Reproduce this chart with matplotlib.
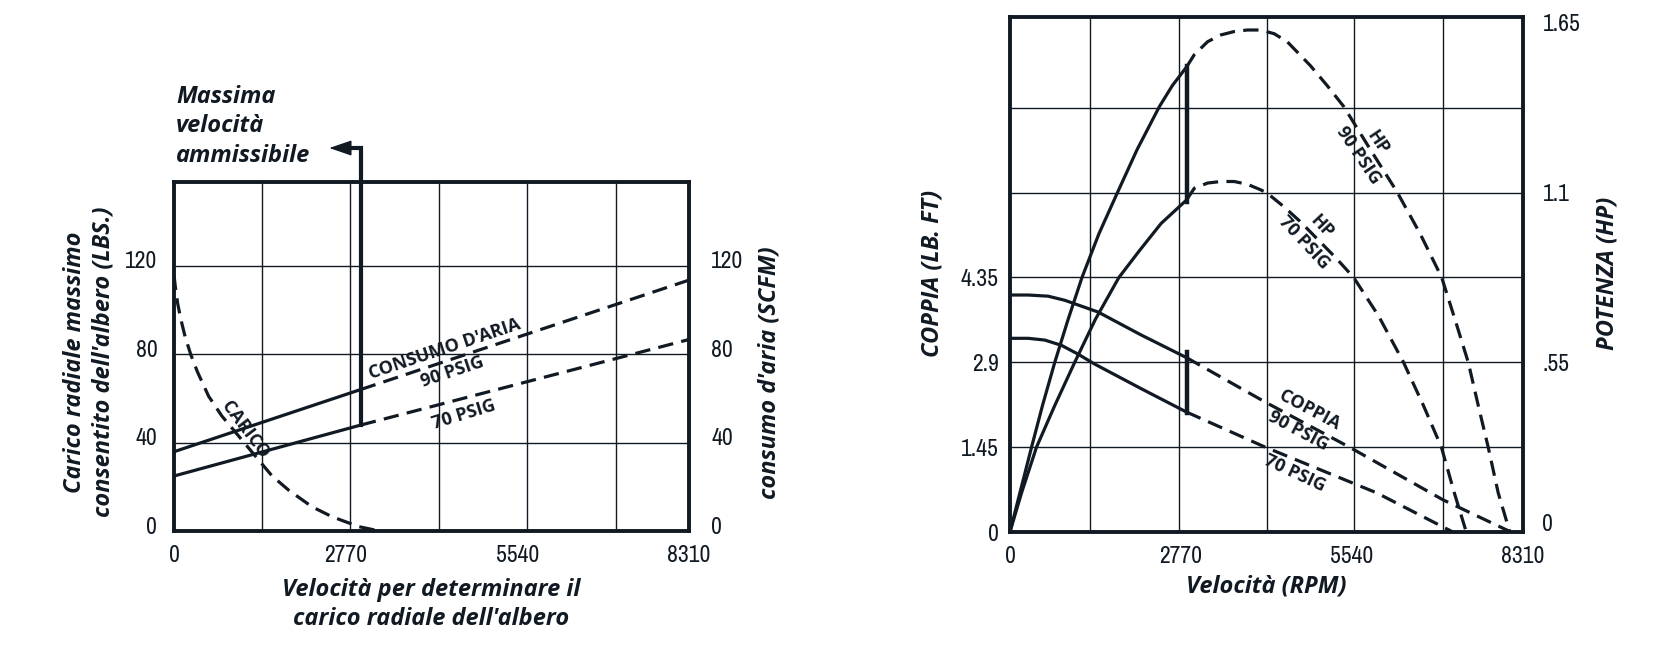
import matplotlib
matplotlib.use("Agg")
from matplotlib import pyplot as plt
from matplotlib import font_manager
from matplotlib.transforms import ScaledTranslation

# ---- left chart: shaft radial load / air consumption vs speed
load_rpm = [0, 25, 60, 110, 180, 270, 380, 560, 775, 1044, 1312, 1581, 1851, 2227, 2549, 2980, 3320]
load_lbs = [116, 110, 103, 96, 88, 80, 72, 61, 52, 43, 34, 25, 18.5, 11, 6.5, 2, 0]

air_rpm = [0, 3017, 8310]
air_90 = [35.9, 64.1, 113.6]
air_70 = [24.9, 48.0, 86.7]
max_speed_left = 3017
arrow_rpm = 2506
arrow_level = 173.4

left_xticks = [0, 2770, 5540, 8310]
left_yticks = [0, 40, 80, 120]
left_grid_x = [1428, 2843, 4270, 5704, 7132]
left_grid_y = [40, 80, 120]

# ---- right chart: torque (lb.ft) and power (hp) vs speed
hp90_rpm_s = [0, 161, 350, 527, 726, 942, 1167, 1442, 1748, 2061, 2421, 2631, 2860]
hp90_s = [0, 0.127, 0.275, 0.410, 0.55, 0.689, 0.825, 0.967, 1.103, 1.240, 1.379, 1.447, 1.507]
hp90_rpm_d = [2860, 2986, 3201, 3416, 3632, 3847, 4062, 4280, 4492, 4869, 5138, 5407,
              5837, 6268, 6644, 6994, 7209, 7424, 7586, 7747, 7909, 8097]
hp90_d = [1.507, 1.547, 1.589, 1.611, 1.622, 1.627, 1.627, 1.615, 1.589, 1.511, 1.447, 1.379,
          1.240, 1.103, 0.967, 0.825, 0.689, 0.55, 0.41, 0.275, 0.127, 0]

hp70_rpm_s = [0, 188, 430, 726, 1049, 1383, 1765, 2098, 2448, 2860]
hp70_s = [0, 0.127, 0.275, 0.410, 0.55, 0.689, 0.825, 0.912, 1.0, 1.076]
hp70_rpm_d = [2860, 2986, 3201, 3416, 3632, 3847, 4062, 4170, 4439, 4708, 4977, 5272,
              5568, 5972, 6375, 6698, 6989, 7198, 7392]
hp70_d = [1.076, 1.114, 1.131, 1.136, 1.136, 1.127, 1.109, 1.098, 1.054, 1.005, 0.950, 0.890,
          0.825, 0.700, 0.55, 0.410, 0.275, 0.127, 0]

tq90_rpm_s = [0, 296, 619, 888, 1157, 1426, 2120, 2860]
tq90_s = [4.05, 4.05, 4.03, 3.96, 3.86, 3.76, 3.37, 2.98]
tq90_rpm_d = [2860, 4136, 5500, 7015, 8116]
tq90_d = [2.98, 2.22, 1.45, 0.55, 0]

tq70_rpm_s = [0, 296, 565, 834, 1103, 1372, 2125, 2860]
tq70_s = [3.31, 3.31, 3.28, 3.19, 3.04, 2.87, 2.45, 2.05]
tq70_rpm_d = [2860, 4136, 5938, 7175]
tq70_d = [2.05, 1.45, 0.67, 0]

max_speed_right = 2860
hp_bar = [1.07, 1.51]
tq_bar = [2.03, 3.07]

right_xticks = [0, 2770, 5540, 8310]
tq_ticks = [0, 1.45, 2.9, 4.35]
hp_ticks = [0, 0.55, 1.1, 1.65]
hp_labels = ['0', '.55', '1.1', '1.65']
right_grid_x = [1302, 2740, 4157, 5575, 7018]
right_grid_y = [1.45, 2.9, 4.35, 5.8, 7.25]
tq_top = 8.8
hp_per_tq = 0.55 / 2.9

INK = '#111a23'
names = {f.name for f in font_manager.fontManager.ttflist}
NUM_FONT = 'Archivo Narrow' if 'Archivo Narrow' in names else 'Liberation Sans'
LAB_FONT = 'Open Sans'
plt.rcParams['font.family'] = [LAB_FONT, 'DejaVu Sans']

lab = dict(family=LAB_FONT, style='italic', weight='bold', size=17, color=INK)
note = dict(family=LAB_FONT, weight='bold', size=13, color=INK, ha='center',
            va='center', rotation_mode='anchor', linespacing=1.4, multialignment='center')
DASH = (0, (4.8, 2.6))
LW = 2.3
TICK_SIZE = 17


def frame(ax, xlim, ylim, gx, gy):
    ax.set_xlim(*xlim)
    ax.set_ylim(*ylim)
    for v in gx:
        ax.axvline(v, color=INK, lw=1.0, zorder=1)
    for v in gy:
        ax.axhline(v, color=INK, lw=1.0, zorder=1)
    for s in ax.spines.values():
        s.set_linewidth(2.8)
        s.set_color(INK)
        s.set_zorder(5)
    ax.tick_params(length=0, labelsize=TICK_SIZE, colors=INK)


def twin(ax, ylim):
    ax2 = ax.twinx()
    ax2.set_ylim(*ylim)
    for s in ax2.spines.values():
        s.set_visible(False)
    ax2.tick_params(length=0, labelsize=TICK_SIZE, colors=INK)
    return ax2


def curve(ax, xs, ys, xd, yd):
    ax.plot(xs, ys, color=INK, lw=LW, solid_capstyle='butt', zorder=3)
    ax.plot(xd, yd, color=INK, lw=LW, ls=DASH, zorder=3)


def raise_labels(labels, px):
    for lbl in labels:
        lbl.set_transform(lbl.get_transform() + ScaledTranslation(0, px / 100, fig.dpi_scale_trans))


fig = plt.figure(figsize=(16.71, 6.56), dpi=100)
axL = fig.add_axes([0.1041, 0.1905, 0.3082, 0.532])
axR = fig.add_axes([0.6044, 0.189, 0.3070, 0.785])

# ---------------- left chart
frame(axL, (0, 8310), (0, 158), left_grid_x, left_grid_y)
axL.set_xticks(left_xticks, [str(v) for v in left_xticks], fontfamily=NUM_FONT)
axL.set_yticks(left_yticks, [str(v) for v in left_yticks], fontfamily=NUM_FONT)
axL.tick_params(axis='y', pad=12)
axL.tick_params(axis='x', pad=10)
axL2 = twin(axL, (0, 158))
axL2.set_yticks(left_yticks, [str(v) for v in left_yticks], fontfamily=NUM_FONT)
axL2.tick_params(axis='y', pad=16)
raise_labels(axL.get_yticklabels() + axL2.get_yticklabels(), 6)

axL.plot(load_rpm, load_lbs, color=INK, lw=LW, ls=DASH, zorder=3)
curve(axL2, air_rpm[:2], air_90[:2], air_rpm[1:], air_90[1:])
curve(axL2, air_rpm[:2], air_70[:2], air_rpm[1:], air_70[1:])

# maximum allowed speed marker
axL2.plot([max_speed_left, max_speed_left, max_speed_left - 260],
          [air_70[1], arrow_level, arrow_level],
          color=INK, lw=3.0, clip_on=False, zorder=4, solid_joinstyle='miter')
axL2.annotate('', xy=(arrow_rpm, arrow_level), xytext=(max_speed_left, arrow_level),
              arrowprops=dict(arrowstyle='-|>,head_length=0.7,head_width=0.24',
                              mutation_scale=20, lw=1.0, color=INK,
                              shrinkA=0, shrinkB=0),
              annotation_clip=False)
axL.text(0.004, 1.16, 'Massima\nvelocità\nammissibile', transform=axL.transAxes,
         ha='left', va='center', linespacing=1.3, **lab)

axL2.text(4430, 77.3, "CONSUMO D'ARIA\n90 PSIG", rotation=18.5, **note)
axL2.text(4680, 52.5, '70 PSIG', rotation=17, **note)
axL.text(1150, 46, 'CARICO', rotation=-53, **note)

axL.set_xlabel("Velocità per determinare il\ncarico radiale dell'albero",
               linespacing=1.25, **lab)
axL.xaxis.set_label_coords(0.5, -0.135)
axL.set_ylabel("Carico radiale massimo\nconsentito dell'albero (LBS.)",
               linespacing=1.25, **lab)
axL.yaxis.set_label_coords(-0.113, 0.484)
axL2.set_ylabel("consumo d'aria (SCFM)", **lab)
axL2.yaxis.set_label_coords(1.134, 0.453)

# ---------------- right chart
frame(axR, (0, 8310), (0, tq_top), right_grid_x, right_grid_y)
axR.set_xticks(right_xticks, [str(v) for v in right_xticks], fontfamily=NUM_FONT)
axR.set_yticks(tq_ticks, ['0', '1.45', '2.9', '4.35'], fontfamily=NUM_FONT)
axR.tick_params(axis='y', pad=8)
axR.tick_params(axis='x', pad=10)
axR2 = twin(axR, (0, tq_top * hp_per_tq))
axR2.set_yticks(hp_ticks, hp_labels, fontfamily=NUM_FONT)
axR2.tick_params(axis='y', pad=14)
raise_labels(axR2.get_yticklabels()[:1], 10)

curve(axR2, hp90_rpm_s, hp90_s, hp90_rpm_d, hp90_d)
curve(axR2, hp70_rpm_s, hp70_s, hp70_rpm_d, hp70_d)
curve(axR, tq90_rpm_s, tq90_s, tq90_rpm_d, tq90_d)
curve(axR, tq70_rpm_s, tq70_s, tq70_rpm_d, tq70_d)
axR2.plot([max_speed_right] * 2, hp_bar, color=INK, lw=3.2, zorder=4)
axR.plot([max_speed_right] * 2, tq_bar, color=INK, lw=3.2, zorder=4)

axR.text(5800, 6.55, 'HP\n90 PSIG', rotation=-56, **note)
axR.text(4900, 5.08, 'HP\n70 PSIG', rotation=-47, **note)
axR.text(4760, 1.9, 'COPPIA\n90 PSIG', rotation=-28, **note)
axR.text(4620, 1.0, '70 PSIG', rotation=-25, **note)

axR.set_xlabel('Velocità (RPM)', **lab)
axR.xaxis.set_label_coords(0.5, -0.083)
axR.set_ylabel('COPPIA (LB. FT)', **lab)
axR.yaxis.set_label_coords(-0.127, 0.503)
axR2.set_ylabel('POTENZA (HP)', **lab)
axR2.yaxis.set_label_coords(1.142, 0.503)

fig.savefig('out.png', dpi=100)
